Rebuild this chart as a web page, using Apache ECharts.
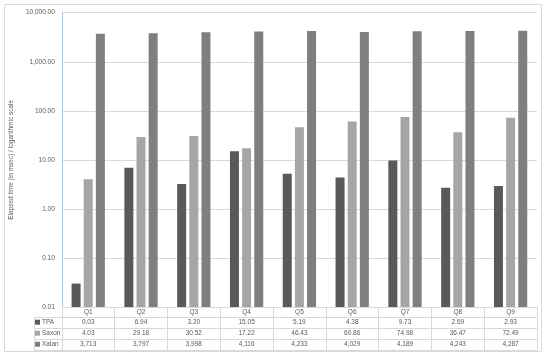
<!DOCTYPE html>
<html><head><meta charset="utf-8">
<script src="https://cdn.jsdelivr.net/npm/echarts@6/dist/echarts.min.js"></script>
<style>html,body{margin:0;padding:0;background:#fff}#c{width:550px;height:358px}</style>
</head><body><div id="c"></div>
<script>
var categories = ['Q1','Q2','Q3','Q4','Q5','Q6','Q7','Q8','Q9'];
var tpa   = [0.03, 6.94, 3.20, 15.05, 5.19, 4.38, 9.73, 2.69, 2.93];
var saxon = [4.03, 29.18, 30.52, 17.22, 46.43, 60.86, 74.98, 36.47, 72.49];
var xalan = [3713, 3797, 3998, 4116, 4233, 4029, 4189, 4243, 4287];
var seriesNames = ['TPA','Saxon','Xalan'];
var seriesColors = ['#595959','#a6a6a6','#7f7f7f'];
var yTitle = 'Elapsed time (in msec) / logarithmic scale';

var FONT = 'Liberation Sans';
var TXT = '#595959';
var GRID_L = 58, GRID_R = 537, GRID_T = 12.7, GRID_B = 307;
var CAT_H = 9.7, ROW_H = 11;

function f2(v){ return v.toLocaleString('en-US',{minimumFractionDigits:2, maximumFractionDigits:2}); }
function f0(v){ return v.toLocaleString('en-US',{maximumFractionDigits:0}); }

var chart = echarts.init(document.getElementById('c'), null, {renderer:'canvas'});

var tableY0 = GRID_B + CAT_H;
var graphics = [
  {type:'rect', shape:{x:4.5,y:4.5,width:537,height:347}, style:{fill:'none', stroke:'#d9d9d9', lineWidth:1}, silent:true, z:0}
];
for (var i = 0; i <= 3; i++) {
  var y = Math.round(tableY0 + i*ROW_H) + 0.5;
  graphics.push({type:'line', shape:{x1:34, y1:y, x2:GRID_R, y2:y}, style:{stroke:'#d9d9d9', lineWidth:1}, silent:true});
}
graphics.push({type:'line', shape:{x1:34.5, y1:Math.round(tableY0)+0.5, x2:34.5, y2:Math.round(tableY0+3*ROW_H)+0.5}, style:{stroke:'#d9d9d9', lineWidth:1}, silent:true});

var legends = seriesNames.map(function(n, k){
  return {
    orient:'horizontal', left:35, top:tableY0 + k*ROW_H + ROW_H/2 - 4, padding:0,
    itemWidth:5, itemHeight:5, icon:'rect',
    data:[n],
    textStyle:{fontSize:6.5, color:TXT, fontFamily:FONT, lineHeight:8, padding:[0,0,0,-3]},
    selectedMode:false
  };
});

var option = {
  backgroundColor:'#fff',
  animation:false,
  textStyle:{fontFamily:FONT},
  grid:{left:GRID_L, right:550-GRID_R, top:GRID_T, bottom:358-GRID_B, containLabel:false},
  legend:legends,
  xAxis:{
    type:'category', data:categories,
    axisLine:{show:false},
    axisTick:{show:true, length:Math.round(3*ROW_H+CAT_H)+0.5, lineStyle:{color:'#d9d9d9'}},
    axisLabel:{
      margin:0.5, interval:0,
      formatter:function(v, idx){
        return '{q|'+v+'}\n{v|'+f2(tpa[idx])+'}\n{v|'+f2(saxon[idx])+'}\n{v|'+f0(xalan[idx])+'}';
      },
      rich:{
        q:{fontSize:6.5, color:TXT, lineHeight:CAT_H, fontFamily:FONT, align:'center'},
        v:{fontSize:6.5, color:TXT, lineHeight:ROW_H, fontFamily:FONT, align:'center'}
      }
    }
  },
  yAxis:{
    type:'log', logBase:10, min:0.01, max:10000, startValue:0.01,
    name:yTitle, nameLocation:'middle', nameGap:34,
    nameTextStyle:{fontSize:6.5, color:TXT, fontFamily:FONT},
    axisLine:{show:true, lineStyle:{color:'#b4c7e7'}},
    axisTick:{show:false},
    splitLine:{show:true, lineStyle:{color:'#d9d9d9'}},
    axisLabel:{fontSize:6.5, color:TXT, margin:7, fontFamily:FONT,
      formatter:function(v){ return f2(Number(v.toPrecision(6))); }}
  },
  series:[
    {name:seriesNames[0], type:'bar', data:tpa, itemStyle:{color:seriesColors[0]}, barWidth:9, barGap:'35%'},
    {name:seriesNames[1], type:'bar', data:saxon, itemStyle:{color:seriesColors[1]}, barWidth:9, barGap:'35%'},
    {name:seriesNames[2], type:'bar', data:xalan, itemStyle:{color:seriesColors[2]}, barWidth:9, barGap:'35%'}
  ],
  graphic:graphics
};
chart.setOption(option);
</script></body></html>
